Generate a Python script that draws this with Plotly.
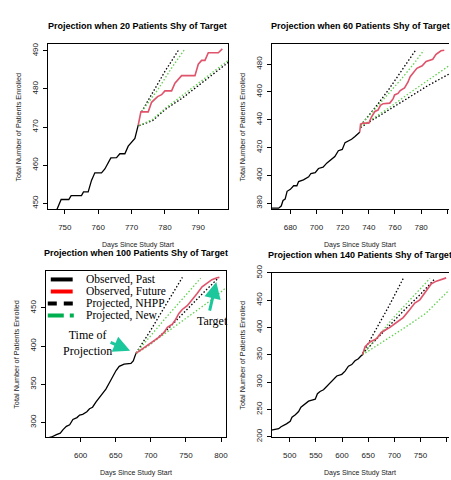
import plotly.graph_objects as go

W, H = 451, 480

# ---------------- data ----------------
# Panel 1: 20 patients shy of target
past_x1 = [745, 747.6, 748.9, 751.2, 751.9, 755, 755.6, 757, 758, 759, 761, 762, 763.8, 765.5, 766.5, 768, 769, 770, 771, 772]
past_y1 = [446, 448.3, 451, 451, 452, 452, 453, 453, 456, 458, 458, 459, 461.9, 462, 463, 463, 465, 466, 467, 470.5]
fut_x1 = [772, 772.8, 775, 776, 777.8, 779, 780, 782, 783, 785, 789, 790, 791, 792, 793, 796, 797.2]
fut_y1 = [470.5, 474, 474, 476.5, 478, 478.5, 479.5, 479.5, 481.5, 483.5, 483.5, 486.5, 487.5, 487.5, 489.5, 489.5, 490.5]
nhpp_hi_x1 = [773, 776, 780, 784.3]
nhpp_hi_y1 = [474, 478.5, 484.6, 490.5]
new_hi_x1 = [773, 778, 782, 786]
new_hi_y1 = [474, 480, 485.5, 490.5]
nhpp_lo_x1 = [772.3, 776.3, 780.2, 785.2, 790.2, 795.2, 799]
nhpp_lo_y1 = [470.4, 471.7, 474.7, 477.6, 481, 484.5, 487]
new_lo_x1 = [772.3, 776.3, 780.2, 785.2, 790.2, 795.2, 799]
new_lo_y1 = [470.4, 472, 475, 478.2, 481.6, 485, 487.5]

# Panel 2: 60 patients shy of target
past_x2 = [665, 671, 673, 674.4, 676, 677.5, 680, 682.5, 685, 686.3, 690, 694, 695.7, 699, 701.5, 705, 708, 711.6, 714, 716.7, 719.7, 721.8, 724.3, 726.8, 729.4, 731.9, 733]
past_y2 = [376.5, 376.5, 378, 382, 383, 388.6, 390, 392.6, 392.6, 395.6, 396.8, 399, 401.4, 402, 405, 406, 409, 411.7, 413.6, 417.8, 418.7, 423.6, 424.8, 426, 428, 430, 431]
fut_x2 = [733, 733.7, 735.7, 740, 742, 744.6, 747, 748.9, 751, 756, 758.5, 759.7, 762.3, 764, 767.3, 769.9, 771.6, 774, 776.7, 780.8, 783.8, 788.9, 791.4, 795.2, 797.7]
fut_y2 = [431, 437, 437.6, 437.6, 442, 446, 447, 450.4, 451.6, 452, 455, 457.9, 459, 461, 463, 467, 471, 473.7, 477, 478.8, 482, 483.5, 487, 489.6, 490]
nhpp_hi_x2 = [733.7, 745, 755, 765, 775.7]
nhpp_hi_y2 = [436, 449, 461.5, 475, 490]
new_hi_x2 = [733.7, 745, 755, 765, 775, 782]
new_hi_y2 = [436, 448, 458.5, 469.5, 481, 490]
nhpp_lo_x2 = [733.7, 745, 756, 770, 785, 801.5]
nhpp_lo_y2 = [434.5, 441, 447.5, 456, 464.5, 473]
new_lo_x2 = [733.7, 745, 756, 770, 785, 801.5]
new_lo_y2 = [435, 442, 449, 458.5, 468.5, 479]

# Panel 3: 100 patients shy of target
past_x3 = [550, 558.5, 565.6, 571, 575, 579.7, 584.4, 589, 594.8, 598.6, 603, 608.9, 612.7, 617, 622, 626.9, 631.6, 636, 641, 645.8, 650.5, 655, 662, 671.7, 675, 678.8]
past_y3 = [279, 281, 284, 286, 290.6, 295, 297, 304, 306.4, 309.8, 310.6, 314, 318, 320, 327, 333, 337.4, 343.8, 352, 360.8, 368, 373.5, 376.5, 377.3, 380.7, 390.5]
fut_x3 = [678.8, 683.5, 692.9, 702, 711.8, 718.9, 723.6, 730.6, 735.4, 740, 744.8, 751.9, 758.9, 766, 773, 780, 787, 794.3, 797.6]
fut_y3 = [390.5, 393.5, 399, 405.4, 411.8, 418, 424.5, 428.8, 435, 442.8, 448, 453, 460.6, 469, 477.6, 482.7, 487, 489.5, 490]
nhpp_hi_x3 = [679, 700, 720, 745]
nhpp_hi_y3 = [391, 421, 452, 490]
nhpp_lo_x3 = [679, 700, 725, 750, 775, 797]
nhpp_lo_y3 = [391, 403, 423, 447, 470, 490]
new_hi_x3 = [679, 700, 725, 750, 771]
new_hi_y3 = [391, 414, 441, 467, 489]
new_lo_x3 = [679, 700, 730, 760, 790, 807.5]
new_lo_y3 = [390, 403, 423, 443, 463, 477]

# Panel 4: 140 patients shy of target
past_x4 = [465, 466.4, 479, 483.5, 488.6, 493.9, 501, 504.4, 510.8, 517, 521.5, 529.8, 536, 542.5, 548.8, 553, 558, 564.6, 570.9, 577.3, 583.7, 590, 599.5, 605.8, 612.2, 618.5, 624.8, 631.2, 636, 639]
past_y4 = [212, 212.4, 214.8, 218.4, 220.7, 223.7, 228.5, 236, 240.3, 246.2, 254, 261, 265.2, 267, 268.8, 278.8, 283, 286, 291.9, 297.8, 305.5, 311.4, 314.4, 320.3, 329.2, 332.2, 339.3, 342.9, 348, 350]
fut_x4 = [639, 644, 653.5, 666, 675.6, 691.5, 704, 716.8, 729.6, 739, 748.6, 758, 770.7, 780.2, 793, 799]
fut_y4 = [350, 364.8, 373.7, 379.6, 391.5, 400.4, 409.3, 418.2, 433, 444.9, 450.8, 462.7, 480.4, 485, 489.3, 491]
nhpp_hi_x4 = [639, 660, 690, 717]
nhpp_hi_y4 = [352, 388, 440, 490]
nhpp_lo_x4 = [639, 680, 720, 750, 777]
nhpp_lo_y4 = [352, 393, 433, 461, 489]
new_hi_x4 = [639, 670, 700, 735, 768]
new_hi_y4 = [350, 386, 420, 456, 490]
new_lo_x4 = [639, 680, 720, 760, 805]
new_lo_y4 = [350, 375, 400, 426, 469]

titles = ["Projection when 20 Patients Shy of Target",
          "Projection when 60 Patients Shy of Target",
          "Projection when 100 Patients Shy of Target",
          "Projection when 140 Patients Shy of Target"]
x_ticks = [[750, 760, 770, 780, 790], [680, 700, 720, 740, 760, 780, 800],
           [600, 650, 700, 750, 800], [500, 550, 600, 650, 700, 750, 800]]
y_ticks = [[450, 460, 470, 480, 490], [380, 400, 420, 440, 460, 480],
           [300, 350, 400, 450], [200, 250, 300, 350, 400, 450, 500]]
x_ranges = [[744.9, 798.9], [665.8, 801.3], [550.4, 807.1], [465.8, 804.4]]
y_ranges = [[448.4, 491.8], [375.6, 494.5], [280.9, 498.8], [199.5, 500.6]]
legend_labels = ["Observed, Past", "Observed, Future", "Projected, NHPP", "Projected, New"]

panels = [
    (past_x1, past_y1, fut_x1, fut_y1, nhpp_hi_x1, nhpp_hi_y1, nhpp_lo_x1, nhpp_lo_y1, new_hi_x1, new_hi_y1, new_lo_x1, new_lo_y1),
    (past_x2, past_y2, fut_x2, fut_y2, nhpp_hi_x2, nhpp_hi_y2, nhpp_lo_x2, nhpp_lo_y2, new_hi_x2, new_hi_y2, new_lo_x2, new_lo_y2),
    (past_x3, past_y3, fut_x3, fut_y3, nhpp_hi_x3, nhpp_hi_y3, nhpp_lo_x3, nhpp_lo_y3, new_hi_x3, new_hi_y3, new_lo_x3, new_lo_y3),
    (past_x4, past_y4, fut_x4, fut_y4, nhpp_hi_x4, nhpp_hi_y4, nhpp_lo_x4, nhpp_lo_y4, new_hi_x4, new_hi_y4, new_lo_x4, new_lo_y4),
]

# ---------------- layout (pixel boxes) ----------------
boxes = [(48, 37, 229, 207), (273, 37, 451, 207), (46, 270, 227, 441), (273, 272, 451, 441)]

def px(x):
    return x / W

def py(y):
    return 1 - y / H

RED = "#DF536B"
GREEN = "#61D04F"
TEAL = "#1DC79C"
SANS = "Liberation Sans, Arial, sans-serif"
SERIF = "Liberation Serif, Times New Roman, serif"

fig = go.Figure()
layout = dict(width=W, height=H, margin=dict(l=0, r=0, t=0, b=0),
              plot_bgcolor="white", paper_bgcolor="white", showlegend=False)

annotations = []
for i, p in enumerate(panels):
    n = i + 1
    xa = "x" if n == 1 else f"x{n}"
    ya = "y" if n == 1 else f"y{n}"
    (pxs, pys, fxs, fys, nhx, nhy, nlx, nly, whx, why, wlx, wly) = p
    for (xx, yy, c) in [(nhx, nhy, "black"), (nlx, nly, "black"), (whx, why, GREEN), (wlx, wly, GREEN)]:
        fig.add_trace(go.Scatter(x=xx, y=yy, mode="lines", xaxis=xa, yaxis=ya,
                                 line=dict(color=c, width=1.3, dash="1.5px,2px"), hoverinfo="skip"))
    fig.add_trace(go.Scatter(x=fxs, y=fys, mode="lines", xaxis=xa, yaxis=ya,
                             line=dict(color=RED, width=1.6), hoverinfo="skip"))
    fig.add_trace(go.Scatter(x=pxs, y=pys, mode="lines", xaxis=xa, yaxis=ya,
                             line=dict(color="black", width=1.3), hoverinfo="skip"))

    l, t, r, b = boxes[i]
    right_edge = n in (2, 4)
    axkey = "xaxis" if n == 1 else f"xaxis{n}"
    aykey = "yaxis" if n == 1 else f"yaxis{n}"
    layout[axkey] = dict(domain=[px(l), px(r)], anchor=ya, range=x_ranges[i],
                         tickmode="array", tickvals=x_ticks[i], ticks="outside", ticklen=4,
                         tickcolor="black", showline=True, linecolor="black", linewidth=1,
                         mirror=True, showgrid=False, zeroline=False, ticklabelstandoff=6,
                         tickfont=dict(family=SANS, size=8, color="#222"))
    layout[aykey] = dict(domain=[py(b), py(t)], anchor=xa, range=y_ranges[i],
                         tickmode="array", tickvals=y_ticks[i], ticks="outside", ticklen=4,
                         tickcolor="black", showline=True, linecolor="black", linewidth=1,
                         mirror=False if right_edge else True, showgrid=False, zeroline=False,
                         tickangle=-90, ticklabelstandoff=2,
                         tickfont=dict(family=SANS, size=8, color="#222"))
    cx = (l + r) / 2
    annotations.append(dict(text=titles[i], x=px(cx), y=py(t - 18), xref="paper", yref="paper",
                            showarrow=False, xanchor="center", yanchor="middle",
                            font=dict(family=SANS, size=9, color="black", weight="bold")))
    annotations.append(dict(text="Days Since Study Start", x=px(cx), y=py(b + 37), xref="paper", yref="paper",
                            showarrow=False, xanchor="center", yanchor="middle",
                            font=dict(family=SANS, size=7, color="#222")))
    annotations.append(dict(text="Total Number of Patients Enrolled", x=px(l - 29), y=py((t + b) / 2),
                            xref="paper", yref="paper", showarrow=False, textangle=-90,
                            xanchor="center", yanchor="middle",
                            font=dict(family=SANS, size=7.3, color="#222")))

# legend in panel 3 (no border)
shapes = []
leg_rows = [(279, "black", None, 51, 73), (291.4, "red", None, 51, 73),
            (303.7, "black", "9px,7px", 48, 78), (316, "#00B050", "16px,6px,4px,6px", 48, 78)]
for k, (yy, col, dsh, x0, x1) in enumerate(leg_rows):
    line = dict(color=col, width=4)
    if dsh:
        line["dash"] = dsh
    shapes.append(dict(type="line", xref="paper", yref="paper", x0=px(x0), x1=px(x1),
                       y0=py(yy), y1=py(yy), line=line))
    annotations.append(dict(text=legend_labels[k], x=px(85), y=py(yy), xref="paper", yref="paper",
                            showarrow=False, xanchor="left", yanchor="middle", borderpad=0,
                            font=dict(family=SERIF, size=11.5, color="black")))

annotations.append(dict(text="Time of<br>Projection", x=px(88), y=py(344), xref="paper", yref="paper",
                        showarrow=False, xanchor="center", yanchor="middle",
                        font=dict(family=SERIF, size=12, color="black")))
annotations.append(dict(text="", x=670.5, y=393.9, xref="x3", yref="y3", showarrow=True,
                        ax=-21, ay=-9, arrowhead=2, arrowsize=1.1, arrowwidth=3, arrowcolor=TEAL))
annotations.append(dict(text="Target", x=px(196), y=py(322), xref="paper", yref="paper",
                        showarrow=False, xanchor="left", yanchor="middle",
                        font=dict(family=SERIF, size=12, color="black")))
annotations.append(dict(text="", x=793.3, y=483.9, xref="x3", yref="y3", showarrow=True,
                        ax=-7, ay=30, arrowhead=2, arrowsize=1.1, arrowwidth=3, arrowcolor=TEAL))

layout["annotations"] = annotations
layout["shapes"] = shapes
fig.update_layout(**layout)
fig.write_html("out.html", config={"displayModeBar": False}, post_script=(
    "document.body.style.margin='0';document.body.style.padding='0';"
    "document.body.style.overflow='hidden';"
    "document.documentElement.style.overflow='hidden';"))
